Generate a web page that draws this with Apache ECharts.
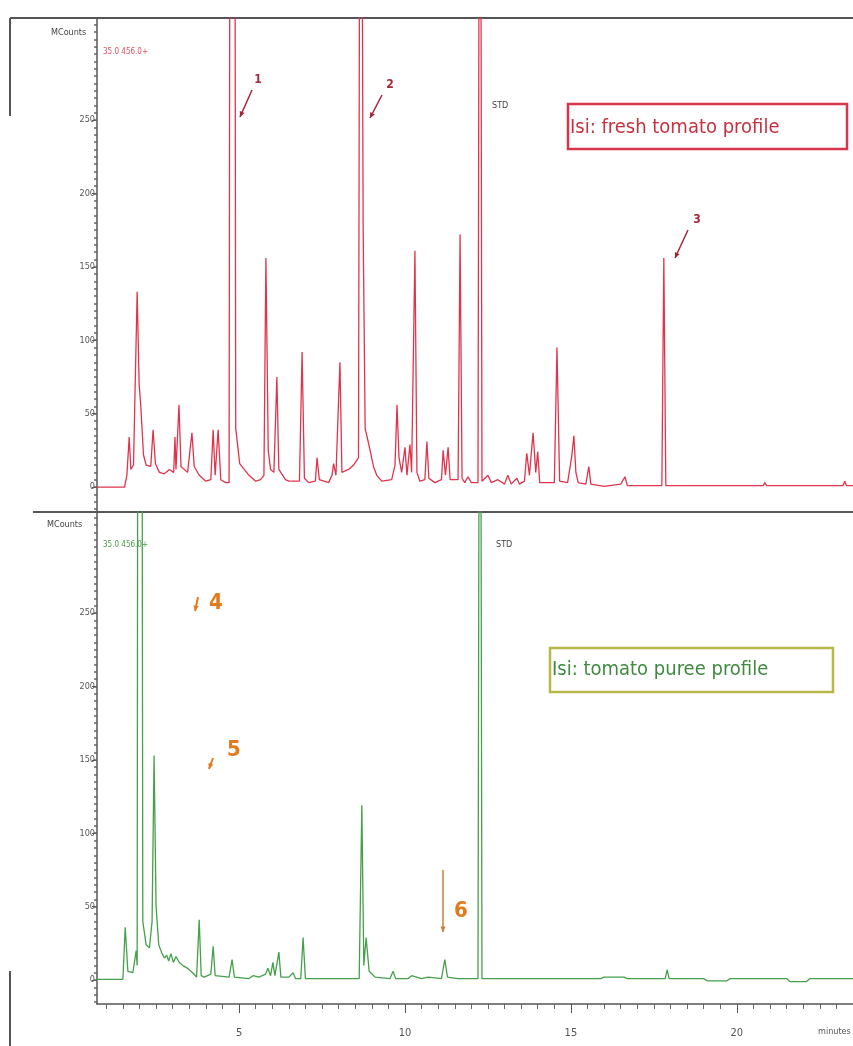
<!DOCTYPE html>
<html><head><meta charset="utf-8">
<script src="https://cdn.jsdelivr.net/npm/echarts@6/dist/echarts.min.js"></script>
<style>html,body{margin:0;padding:0;background:#fff}#c{width:853px;height:1046px}</style>
</head><body><div id="c"></div>
<script>
// retention time (minutes), MCounts
const freshTomato = [
[0.72,0],[1.55,0],[1.62,8],[1.69,34],[1.74,12],[1.82,15],[1.93,133],[1.99,70],[2.04,55],[2.12,22],[2.2,15],
[2.34,14],[2.41,39],[2.48,16],[2.6,10],[2.75,9],[2.9,12],[3.03,10],[3.07,34],[3.1,12],[3.19,56],[3.25,14],
[3.45,10],[3.58,37],[3.65,14],[3.8,8],[4.0,4],[4.15,5],[4.22,39],[4.28,8],[4.37,39],[4.45,5],[4.6,3],
[4.70,3],[4.74,700],[4.86,700],[4.9,40],[5.02,16],[5.3,8],[5.5,4],[5.65,5],
[5.75,8],[5.81,156],[5.88,25],[5.95,12],[6.05,10],[6.14,75],[6.2,12],[6.4,5],[6.5,4],
[6.82,4],[6.9,92],[6.97,6],[7.1,3],[7.3,4],[7.35,20],[7.42,5],[7.7,3],
[7.8,8],[7.85,16],[7.92,8],[8.04,85],[8.1,10],[8.3,12],[8.45,15],
[8.6,20],[8.66,700],[8.74,176],[8.8,40],[8.9,30],[8.95,25],[9.05,14],[9.15,8],[9.3,4],
[9.6,5],[9.7,15],[9.76,56],[9.82,20],[9.9,10],[10.0,27],[10.06,8],[10.15,29],[10.2,10],
[10.3,161],[10.36,10],[10.45,4],[10.6,5],[10.66,31],[10.72,6],[10.9,3],
[11.1,5],[11.15,25],[11.22,8],[11.3,27],[11.36,5],[11.6,5],[11.66,172],[11.72,6],[11.8,3],[11.9,7],[12.0,3],
[12.2,3],[12.26,700],[12.32,4],[12.5,8],[12.6,3],[12.8,5],[13.0,2],
[13.1,8],[13.2,2],[13.37,6],[13.45,2],[13.6,4],[13.67,23],[13.75,8],[13.86,37],[13.94,10],[14.0,24],[14.06,3],
[14.5,3],[14.58,95],[14.66,4],[14.9,3],[15.02,20],[15.09,35],[15.15,10],[15.22,3],[15.45,2],[15.54,14],[15.6,2],
[16.0,0.5],[16.5,2],[16.63,7],[16.7,1],[17.74,1],[17.8,156],[17.86,1],[20.8,1],[20.84,3],[20.9,1],
[23.2,1],[23.25,4],[23.3,1],[23.5,1]
];
const tomatoPuree = [
[0.72,0.5],[1.5,0.5],[1.57,36],[1.65,6],[1.8,5],[1.9,20],[1.93,10],[1.96,700],[2.06,700],[2.1,40],[2.2,24],[2.3,22],
[2.38,40],[2.44,153],[2.5,50],[2.58,24],[2.68,18],[2.75,15],[2.82,17],[2.88,13],[2.95,18],[3.02,12],[3.1,16],
[3.2,12],[3.3,10],[3.45,8],[3.6,5],[3.72,2],[3.8,41],[3.86,3],[3.95,2],[4.15,4],[4.22,23],[4.28,3],[4.7,2],
[4.79,14],[4.86,2],[5.3,1],[5.42,3],[5.6,2],[5.8,4],[5.87,8],[5.95,3],[6.02,12],[6.08,3],[6.2,19],[6.26,2],
[6.5,2],[6.63,5],[6.7,1],[6.86,1],[6.93,29],[7.0,1],[8.62,1],[8.7,119],[8.76,10],[8.83,29],[8.92,6],[9.1,2],
[9.55,1],[9.64,6],[9.72,1],[10.1,1],[10.2,3],[10.5,1],[10.7,2],[11.1,1],[11.2,14],[11.28,2],[11.6,1],
[12.2,1],[12.26,700],[12.32,1],[14.0,1],[15.9,1],[16.0,2],[16.6,2],[16.7,1],[17.84,1],[17.9,7],[17.96,1],
[19.0,1],[19.1,-0.5],[19.7,-0.5],[19.8,1],[21.5,1],[21.6,-1],[22.1,-1],[22.2,1],[23.5,1]
];
const yLabelValues = [0,50,100,150,200,250];
const yMinorValues = [-15,-10,-5,0,5,10,15,20,25,30,35,40,45,50,55,60,65,70,75,80,85,90,95,100,105,110,115,120,125,130,135,140,145,150,155,160,165,170,175,180,185,190,195,200,205,210,215,220,225,230,235,240,245,250,255,260,265,270,275,280,285,290,295,300,305,310,315];
const xLabelValues = [5,10,15,20];
const xMinorValues = [1,1.5,2,2.5,3,3.5,4,4.5,5,5.5,6,6.5,7,7.5,8,8.5,9,9.5,10,10.5,11,11.5,12,12.5,13,13.5,14,14.5,15,15.5,16,16.5,17,17.5,18,18.5,19,19.5,20,20.5,21,21.5,22,22.5,23];
const panelTitles = ['Isi: fresh tomato profile','Isi: tomato puree profile'];
const peakNumbers = ['1','2','3','4','5','6'];

const FONT = '"Liberation Sans Narrow","DejaVu Sans Condensed",sans-serif';
const AX = '#555';
const chart = echarts.init(document.getElementById('c'));

function yMain(grid, min, max){
  return {gridIndex:grid,type:'value',min:min,max:max,
    axisLine:{show:true,lineStyle:{color:AX,width:1.5}},
    axisTick:{show:true,length:5,customValues:yLabelValues,lineStyle:{color:AX}},
    axisLabel:{show:true,customValues:yLabelValues,fontSize:9,color:'#555',margin:2,fontFamily:FONT},
    splitLine:{show:false}};
}
function yMinor(grid,min,max){
  return {gridIndex:grid,type:'value',min:min,max:max,position:'left',
    axisLine:{show:false},
    axisTick:{show:true,length:3,customValues:yMinorValues,lineStyle:{color:'#666',width:1.5}},
    axisLabel:{show:false},splitLine:{show:false}};
}
function arrow(x1,y1,x2,y2,color,w){
  const a=Math.atan2(y2-y1,x2-x1), L=6, s=0.45;
  return [
    {type:'line',shape:{x1:x1,y1:y1,x2:x2,y2:y2},style:{stroke:color,lineWidth:w||1.5}},
    {type:'polygon',shape:{points:[[x2,y2],[x2-L*Math.cos(a-s),y2-L*Math.sin(a-s)],[x2-L*Math.cos(a+s),y2-L*Math.sin(a+s)]]},style:{fill:color}}
  ];
}
function txt(x,y,t,size,color,weight,align){
  return {type:'text',x:x,y:y,style:{text:t,fontSize:size,fill:color,fontFamily:FONT,fontWeight:weight||'normal',align:align||'left',verticalAlign:'middle'}};
}

const RED='#e0344c', GREEN='#45a04a', DARKRED='#a8243a', ORANGE='#e27a1e';
let graphics = [
  {type:'line',shape:{x1:10,y1:18,x2:853,y2:18},style:{stroke:AX,lineWidth:2}},
  {type:'line',shape:{x1:10,y1:18,x2:10,y2:116},style:{stroke:AX,lineWidth:2}},
  {type:'line',shape:{x1:10,y1:971,x2:10,y2:1046},style:{stroke:AX,lineWidth:2}},
  {type:'line',shape:{x1:33,y1:512,x2:853,y2:512},style:{stroke:AX,lineWidth:2}},
  txt(51,33,'MCounts',9,'#444'),
  txt(47,525,'MCounts',9,'#444'),
  txt(103,52,'35.0 456.0+',8,'#e05060'),
  txt(103,545,'35.0 456.0+',8,'#4a9a4a'),
  txt(492,106,'STD',9,'#444'),
  txt(496,545,'STD',9,'#444'),
  txt(818,1032,'minutes',9,'#555'),
  {type:'rect',shape:{x:568,y:104,width:279,height:45},style:{fill:'#fff',stroke:'#d8344a',lineWidth:2.5}},
  txt(570,128,panelTitles[0],20,'#c83040'),
  {type:'rect',shape:{x:550,y:648,width:283,height:44},style:{fill:'#fff',stroke:'#b8b84a',lineWidth:2.5}},
  txt(552,670,panelTitles[1],20,'#3e8a3e'),
  txt(258,80,peakNumbers[0],12,DARKRED,'bold','center'),
  txt(390,85,peakNumbers[1],12,DARKRED,'bold','center'),
  txt(697,220,peakNumbers[2],12,DARKRED,'bold','center'),
  txt(216,603,peakNumbers[3],22,ORANGE,'bold','center'),
  txt(234,750,peakNumbers[4],22,ORANGE,'bold','center'),
  txt(461,911,peakNumbers[5],22,ORANGE,'bold','center')
];
graphics = graphics.concat(arrow(252,90,240,117,DARKRED),arrow(382,95,370,118,DARKRED),arrow(688,230,675,258,DARKRED),
  arrow(198,597,195,611,ORANGE,2),arrow(213,758,209,769,ORANGE,2),arrow(443,870,443,932,'#c88038',1.5));

chart.setOption({
  animation:false,
  backgroundColor:'#fff',
  grid:[{left:97,top:18,right:0,height:494},{left:97,top:512,right:0,height:492}],
  xAxis:[
    {gridIndex:0,type:'value',min:0.72,max:23.5,axisLine:{show:false},axisTick:{show:false},axisLabel:{show:false},splitLine:{show:false}},
    {gridIndex:1,type:'value',min:0.72,max:23.5,
      axisLine:{show:true,onZero:false,lineStyle:{color:AX,width:1.5}},
      axisTick:{show:true,length:5,customValues:xMinorValues,lineStyle:{color:'#666'}},
      axisLabel:{show:true,customValues:xLabelValues,fontSize:11,color:'#555',margin:24,fontFamily:FONT},
      splitLine:{show:false}},
    {gridIndex:1,type:'value',min:0.72,max:23.5,position:'bottom',
      axisLine:{show:false,onZero:false},
      axisTick:{show:true,length:9,customValues:xLabelValues,lineStyle:{color:'#555'}},
      axisLabel:{show:false},splitLine:{show:false}}
  ],
  yAxis:[yMain(0,-17,319.5),yMinor(0,-17,319.5),yMain(1,-16.3,318.8),yMinor(1,-16.3,318.8)],
  series:[
    {type:'line',xAxisIndex:0,yAxisIndex:0,data:freshTomato,showSymbol:false,lineStyle:{color:RED,width:1.3},itemStyle:{color:RED}},
    {type:'line',xAxisIndex:1,yAxisIndex:2,data:tomatoPuree,showSymbol:false,lineStyle:{color:GREEN,width:1.3},itemStyle:{color:GREEN}}
  ],
  graphic:graphics
});
</script></body></html>
